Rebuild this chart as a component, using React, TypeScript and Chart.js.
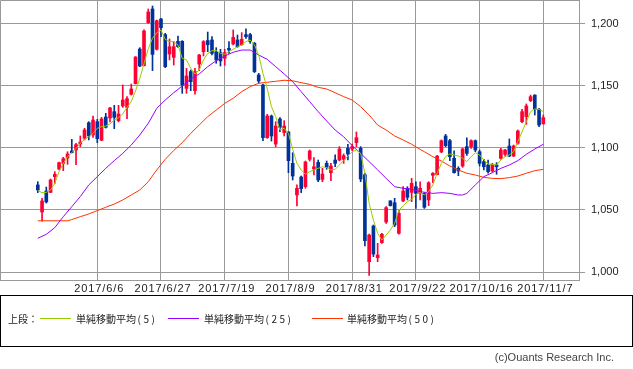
import React, { useEffect, useRef } from 'react';
import { Chart, registerables } from 'chart.js';

Chart.register(...registerables);

// ---- data ----
const dateLabels = ['2017/6/6', '2017/6/27', '2017/7/19', '2017/8/9', '2017/8/31', '2017/9/22', '2017/10/16', '2017/11/7'];
const dateTickIndex = [14, 29, 44, 59, 74, 89, 104, 119];
const yTickValues = [1000, 1050, 1100, 1150, 1200];

const open = [
  1070.2, 1048.4, 1065.3, 1064.2, 1076.9, 1083.1, 1087.6, 1091.9, 1097.6, 1098.4,
  1103.2, 1107.8, 1120.4, 1110.5, 1121.2, 1106.2, 1125.0, 1124.2, 1129.3, 1122.0,
  1133.9, 1132.8, 1143.3, 1151.9, 1179.8, 1166.4, 1201.1, 1212.1, 1179.6, 1204.0,
  1191.4, 1175.8, 1173.1, 1186.0, 1186.0, 1148.1, 1161.6, 1146.2, 1167.7, 1177.7,
  1186.6, 1187.1, 1177.7, 1176.9, 1172.3, 1180.4, 1183.9, 1187.1, 1183.3, 1191.4,
  1191.4, 1184.4, 1158.9, 1150.8, 1108.3, 1125.8, 1103.2, 1123.4, 1112.4, 1112.9,
  1087.6, 1062.1, 1076.6, 1068.8, 1090.9, 1083.1, 1088.4, 1074.7, 1087.6, 1080.1,
  1090.3, 1090.3, 1090.9, 1099.7, 1099.2, 1104.3, 1099.7, 1078.5, 1008.3, 1037.1,
  1011.6, 1023.7, 1040.3, 1057.3, 1055.9, 1031.2, 1057.3, 1067.5, 1064.2, 1068.8,
  1063.4, 1063.4, 1058.1, 1078.0, 1078.5, 1096.8, 1109.7, 1105.9, 1091.7, 1083.6,
  1085.5, 1101.1, 1101.1, 1105.9, 1097.0, 1089.0, 1086.3, 1081.5, 1086.3, 1091.7,
  1094.9, 1101.6, 1093.5, 1103.8, 1121.2, 1125.3, 1138.2, 1142.7, 1131.2, 1119.4,
];
const high = [
  1072.8, 1059.4, 1068.5, 1075.0, 1080.9, 1088.7, 1092.5, 1097.0, 1107.0, 1103.8,
  1109.7, 1115.9, 1121.2, 1125.8, 1123.1, 1124.7, 1128.0, 1132.8, 1134.4, 1134.4,
  1150.8, 1141.4, 1151.6, 1173.7, 1180.9, 1195.2, 1212.1, 1214.5, 1203.2, 1204.6,
  1192.5, 1187.9, 1185.8, 1190.3, 1186.6, 1164.2, 1162.9, 1164.2, 1175.5, 1186.6,
  1193.5, 1189.8, 1180.9, 1179.6, 1179.6, 1185.8, 1195.2, 1191.1, 1193.0, 1196.0,
  1192.5, 1185.2, 1160.2, 1151.6, 1127.2, 1126.6, 1121.2, 1124.5, 1122.0, 1113.2,
  1096.2, 1070.2, 1077.4, 1089.5, 1098.4, 1092.2, 1090.3, 1083.6, 1089.5, 1087.6,
  1094.4, 1101.1, 1095.2, 1103.0, 1103.2, 1112.9, 1101.1, 1079.6, 1030.6, 1037.9,
  1023.1, 1031.2, 1052.7, 1057.6, 1059.4, 1050.0, 1068.8, 1068.8, 1075.5, 1072.8,
  1072.8, 1064.0, 1072.8, 1080.1, 1094.1, 1106.5, 1111.0, 1107.0, 1097.8, 1084.9,
  1099.7, 1108.1, 1106.5, 1106.5, 1098.4, 1090.9, 1090.3, 1087.6, 1088.2, 1099.7,
  1098.9, 1107.3, 1102.4, 1114.5, 1131.2, 1135.5, 1142.7, 1142.9, 1132.0, 1126.6,
];
const low = [
  1064.0, 1040.9, 1055.6, 1064.0, 1071.5, 1082.3, 1081.7, 1086.8, 1096.0, 1086.6,
  1101.1, 1106.5, 1106.5, 1108.6, 1104.3, 1105.9, 1116.1, 1121.0, 1115.6, 1121.0,
  1132.8, 1123.7, 1142.7, 1151.6, 1165.6, 1166.1, 1200.5, 1162.4, 1179.0, 1189.8,
  1164.8, 1171.0, 1166.9, 1181.2, 1144.1, 1144.1, 1146.2, 1143.5, 1162.4, 1174.2,
  1177.7, 1175.0, 1168.3, 1166.1, 1166.7, 1176.3, 1183.1, 1181.2, 1182.8, 1188.4,
  1184.4, 1160.8, 1152.2, 1105.9, 1107.8, 1105.6, 1101.1, 1113.2, 1109.7, 1080.1,
  1074.2, 1053.2, 1064.0, 1067.5, 1089.5, 1078.2, 1072.8, 1072.8, 1082.8, 1073.7,
  1084.9, 1089.5, 1087.6, 1090.3, 1097.8, 1101.1, 1072.8, 1021.0, 997.3, 1012.4,
  1008.3, 1023.1, 1039.2, 1053.2, 1036.6, 1030.6, 1056.7, 1058.1, 1056.7, 1051.3,
  1058.1, 1051.3, 1053.5, 1072.0, 1078.2, 1096.2, 1101.1, 1089.8, 1079.6, 1077.7,
  1084.4, 1094.1, 1099.7, 1097.0, 1085.5, 1082.3, 1079.6, 1080.6, 1078.8, 1090.9,
  1093.5, 1093.0, 1093.0, 1103.0, 1120.4, 1119.1, 1137.4, 1126.6, 1117.2, 1119.4,
];
const close = [
  1066.1, 1057.3, 1056.5, 1074.2, 1078.8, 1088.2, 1091.4, 1095.2, 1096.2, 1102.7,
  1104.8, 1114.5, 1109.7, 1122.6, 1107.5, 1123.4, 1116.7, 1132.3, 1124.7, 1127.4,
  1138.7, 1139.8, 1147.6, 1173.4, 1166.1, 1194.4, 1209.7, 1175.5, 1202.7, 1197.0,
  1165.6, 1181.7, 1181.7, 1181.7, 1150.8, 1158.1, 1153.5, 1161.6, 1175.0, 1185.8,
  1183.3, 1176.3, 1171.0, 1170.2, 1176.9, 1179.0, 1189.2, 1181.7, 1187.6, 1189.8,
  1185.8, 1161.6, 1154.0, 1108.3, 1125.8, 1109.7, 1117.7, 1116.7, 1117.7, 1089.8,
  1077.4, 1067.5, 1067.2, 1088.7, 1097.6, 1084.9, 1074.2, 1079.0, 1084.4, 1085.5,
  1087.6, 1099.2, 1093.8, 1095.2, 1101.1, 1108.3, 1075.0, 1025.3, 1029.8, 1014.5,
  1013.7, 1030.4, 1051.9, 1053.5, 1037.9, 1047.3, 1065.3, 1060.2, 1071.5, 1063.4,
  1067.5, 1052.2, 1072.0, 1079.6, 1093.5, 1105.9, 1101.9, 1093.0, 1080.1, 1081.5,
  1099.2, 1095.7, 1105.9, 1098.4, 1087.6, 1084.9, 1080.9, 1086.8, 1084.9, 1098.4,
  1098.4, 1093.5, 1101.6, 1113.7, 1129.3, 1133.9, 1141.4, 1131.2, 1118.5, 1124.5,
];

const ma5 = [
  1065.6, 1064.0, 1064.2, 1066.1, 1071.5, 1080.9, 1087.6, 1093.0, 1096.2, 1099.7,
  1103.8, 1107.0, 1109.1, 1111.8, 1115.9, 1117.2, 1117.7, 1119.4, 1122.6, 1124.5,
  1127.4, 1132.8, 1137.4, 1146.0, 1156.0, 1168.0, 1180.0, 1188.5, 1193.0, 1195.0,
  1187.6, 1185.8, 1185.8, 1183.1, 1172.3, 1171.0, 1164.2, 1159.7, 1162.9, 1171.0,
  1176.3, 1178.5, 1178.5, 1176.3, 1175.5, 1177.7, 1179.6, 1181.7, 1183.1, 1185.8,
  1187.1, 1183.1, 1175.0, 1160.2, 1148.1, 1133.3, 1125.3, 1114.5, 1115.9, 1111.8,
  1099.0, 1087.6, 1082.3, 1078.8, 1080.9, 1082.3, 1083.6, 1084.9, 1084.1, 1082.3,
  1082.8, 1086.3, 1089.8, 1093.5, 1097.0, 1098.4, 1095.7, 1079.6, 1055.4, 1041.9,
  1031.2, 1025.8, 1029.8, 1033.9, 1039.2, 1050.0, 1053.2, 1056.7, 1058.6, 1062.6,
  1064.0, 1062.1, 1064.8, 1070.2, 1079.6, 1087.6, 1093.0, 1095.2, 1094.4, 1093.5,
  1091.7, 1089.0, 1093.0, 1096.2, 1094.4, 1090.3, 1087.1, 1086.8, 1086.3, 1090.3,
  1093.0, 1094.4, 1097.0, 1105.1, 1113.2, 1121.2, 1129.3, 1131.5, 1131.2, 1129.3,
];

const ma25Index = [0, 2, 4, 6, 8, 10, 12, 14, 16, 18, 20, 22, 24, 26, 28, 30, 32, 34, 36, 38, 40, 42, 44, 46, 48, 50, 52, 54, 56, 58, 60, 62, 64, 66, 68, 70, 72, 74, 76, 78, 80, 82, 84, 86, 88, 90, 93, 95, 97, 99, 100, 101, 103, 105, 107, 109, 111, 113, 115, 117, 119];
const ma25 = [
  1027.2, 1030.4, 1035.8, 1044.6, 1052.7, 1060.8, 1070.2, 1076.9, 1083.6, 1089.8,
  1095.7, 1102.4, 1110.5, 1119.9, 1132.0, 1138.7, 1144.6, 1150.0, 1155.6, 1159.7,
  1165.6, 1170.4, 1174.2, 1177.2, 1179.0, 1179.0, 1175.0, 1171.5, 1165.6, 1159.7,
  1153.5, 1145.4, 1137.4, 1129.3, 1121.8, 1114.5, 1109.1, 1101.9, 1095.7, 1089.0,
  1082.3, 1075.5, 1068.8, 1067.5, 1066.7, 1064.8, 1063.4, 1064.0, 1063.4, 1062.1,
  1062.1, 1063.4, 1070.2, 1076.9, 1080.1, 1083.6, 1086.3, 1089.8, 1094.9, 1099.2,
  1103.0,
];

const ma50Index = [0, 7, 8, 10, 12, 14, 16, 18, 20, 22, 24, 26, 28, 30, 32, 34, 36, 38, 40, 42, 44, 46, 48, 50, 52, 54, 56, 58, 60, 62, 64, 66, 68, 70, 72, 74, 76, 78, 80, 82, 84, 86, 88, 90, 91, 93, 95, 97, 99, 101, 103, 105, 107, 109, 111, 113, 115, 117, 119];
const ma50 = [
  1041.3, 1041.3, 1042.3, 1044.6, 1046.8, 1049.5, 1052.2, 1054.8, 1058.1, 1062.1,
  1066.1, 1072.8, 1082.3, 1090.9, 1098.0, 1104.3, 1111.8, 1118.5, 1125.3, 1130.6,
  1136.0, 1140.1, 1145.4, 1149.5, 1152.2, 1153.0, 1153.8, 1154.6, 1154.2, 1152.7,
  1151.3, 1148.9, 1147.6, 1144.6, 1141.4, 1138.7, 1133.3, 1126.6, 1118.5, 1114.5,
  1109.7, 1106.5, 1103.0, 1098.9, 1097.0, 1093.0, 1089.5, 1085.5, 1082.3, 1079.6,
  1078.2, 1076.3, 1075.5, 1075.3, 1076.1, 1077.4, 1079.6, 1081.7, 1082.8,
];

// ---- styling ----
const UP = '#ff0033';
const DOWN = '#003399';
const GRID = '#999999';
const X_MIN = -8.9;
const X_MAX = 127.4;
const Y_MIN = 993.55;
const Y_MAX = 1219.35;

const fmt = (v: number) => {
  const s = String(Math.round(v));
  return s.length > 3 ? s.slice(0, s.length - 3) + ',' + s.slice(s.length - 3) : s;
};

const framePlugin = {
  id: 'frameAndLabels',
  afterDraw(chart: any) {
    const { ctx, chartArea } = chart;
    ctx.save();
    ctx.strokeStyle = GRID;
    ctx.lineWidth = 1;
    ctx.beginPath();
    ctx.moveTo(chartArea.left + 0.5, chartArea.bottom);
    ctx.lineTo(chartArea.left + 0.5, chartArea.top + 0.5);
    ctx.lineTo(chartArea.right, chartArea.top + 0.5);
    ctx.stroke();
    const xs = chart.scales.x;
    ctx.fillStyle = '#222';
    ctx.font = '11px "Liberation Sans", Arial, sans-serif';
    try { (ctx as any).letterSpacing = '0.9px'; } catch (e) { /* ignore */ }
    ctx.textAlign = 'center';
    ctx.textBaseline = 'middle';
    dateTickIndex.forEach((idx, k) => {
      const px = xs.getPixelForValue(idx);
      ctx.fillText(dateLabels[k], px + 2, chartArea.bottom + 8.5);
    });
    try { (ctx as any).letterSpacing = '0px'; } catch (e) { /* ignore */ }
    ctx.restore();
  },
};

export default function App() {
  const canvasRef = useRef<HTMLCanvasElement | null>(null);

  useEffect(() => {
    const canvas = canvasRef.current;
    if (!canvas) return;
    const idx = open.map((_, i) => i);
    const colors = idx.map((i) => (close[i] >= open[i] ? UP : DOWN));
    const chart = new Chart(canvas, {
      type: 'bar',
      data: {
        datasets: [
          {
            type: 'line',
            label: 'ma5',
            data: ma5.map((v, i) => ({ x: i, y: v })),
            borderColor: '#99cc00',
            borderWidth: 1,
            pointRadius: 0,
            tension: 0,
            order: 0,
          } as any,
          {
            type: 'line',
            label: 'ma25',
            data: ma25.map((v, k) => ({ x: ma25Index[k], y: v })),
            borderColor: '#9900ff',
            borderWidth: 1,
            pointRadius: 0,
            tension: 0,
            order: 0,
          } as any,
          {
            type: 'line',
            label: 'ma50',
            data: ma50.map((v, k) => ({ x: ma50Index[k], y: v })),
            borderColor: '#ff3300',
            borderWidth: 1,
            pointRadius: 0,
            tension: 0,
            order: 0,
          } as any,
          {
            type: 'bar',
            label: 'body',
            data: idx.map((i) => ({ x: i, y: [open[i], close[i]] })),
            backgroundColor: colors,
            borderWidth: 0,
            barThickness: 3,
            minBarLength: 1,
            grouped: false,
            order: 1,
          } as any,
          {
            type: 'bar',
            label: 'wick',
            data: idx.map((i) => ({ x: i, y: [low[i], high[i]] })),
            backgroundColor: colors,
            borderWidth: 0,
            barThickness: 1,
            grouped: false,
            order: 2,
          } as any,
        ],
      },
      options: {
        animation: false,
        responsive: false,
        maintainAspectRatio: false,
        events: [],
        layout: { padding: 0 },
        plugins: { legend: { display: false }, tooltip: { enabled: false } },
        scales: {
          x: {
            type: 'linear',
            min: X_MIN,
            max: X_MAX,
            offset: false,
            grid: { color: GRID, lineWidth: 1, drawTicks: false, offset: false },
            border: { display: true, color: GRID },
            ticks: { display: false },
            afterBuildTicks: (s: any) => {
              s.ticks = dateTickIndex.map((v) => ({ value: v }));
            },
            afterFit: (s: any) => {
              s.height = 16;
              s.paddingLeft = 0;
              s.paddingRight = 0;
            },
          },
          y: {
            type: 'linear',
            position: 'right',
            min: Y_MIN,
            max: Y_MAX,
            grid: { color: GRID, lineWidth: 1, drawTicks: true, tickLength: 6, tickColor: GRID },
            border: { display: true, color: GRID },
            ticks: {
              padding: 6,
              color: '#222',
              font: { family: '"Liberation Sans", Arial, sans-serif', size: 11 },
              callback: (v: any) => fmt(Number(v)),
            },
            afterBuildTicks: (s: any) => {
              s.ticks = yTickValues.map((v) => ({ value: v }));
            },
            afterFit: (s: any) => {
              s.width = 54;
              s.paddingTop = 0;
              s.paddingBottom = 0;
            },
          },
        },
      } as any,
      plugins: [framePlugin],
    });
    return () => chart.destroy();
  }, []);

  const jp = '"Noto Sans CJK JP", "Noto Sans", sans-serif';
  const textStyle: React.CSSProperties = {
    position: 'absolute',
    top: 312,
    lineHeight: '14px',
    fontSize: 10,
    fontFamily: jp,
    color: '#222',
    whiteSpace: 'nowrap',
  };
  const lineStyle = (left: number, color: string): React.CSSProperties => ({
    position: 'absolute',
    left,
    top: 318,
    width: 31,
    height: 1,
    background: color,
  });
  const parenStyle: React.CSSProperties = { letterSpacing: '2.5px', marginLeft: 1.5 };

  return (
    <div style={{ position: 'absolute', left: 0, top: 0, width: 633, height: 369, background: '#fff', overflow: 'hidden' }}>
      <canvas ref={canvasRef} width={633} height={296} style={{ position: 'absolute', left: 0, top: 0, width: 633, height: 296 }} />
      <div style={{ position: 'absolute', left: 0, top: 295, width: 633, height: 52, border: '1px solid #000', boxSizing: 'border-box' }} />
      <div style={{ ...textStyle, left: 8 }}>上段：</div>
      <div style={lineStyle(40, '#99cc00')} />
      <div style={{ ...textStyle, left: 76 }}>単純移動平均<span style={parenStyle}>(5)</span></div>
      <div style={lineStyle(168, '#9900ff')} />
      <div style={{ ...textStyle, left: 204 }}>単純移動平均<span style={parenStyle}>(25)</span></div>
      <div style={lineStyle(312, '#ff3300')} />
      <div style={{ ...textStyle, left: 347 }}>単純移動平均<span style={parenStyle}>(50)</span></div>
      <div
        style={{
          position: 'absolute',
          right: 19,
          top: 350,
          lineHeight: '14px',
          fontSize: 11,
          fontFamily: '"Liberation Sans", Arial, sans-serif',
          color: '#444',
          whiteSpace: 'nowrap',
        }}
      >
        (c)Ouants Research Inc.
      </div>
    </div>
  );
}
